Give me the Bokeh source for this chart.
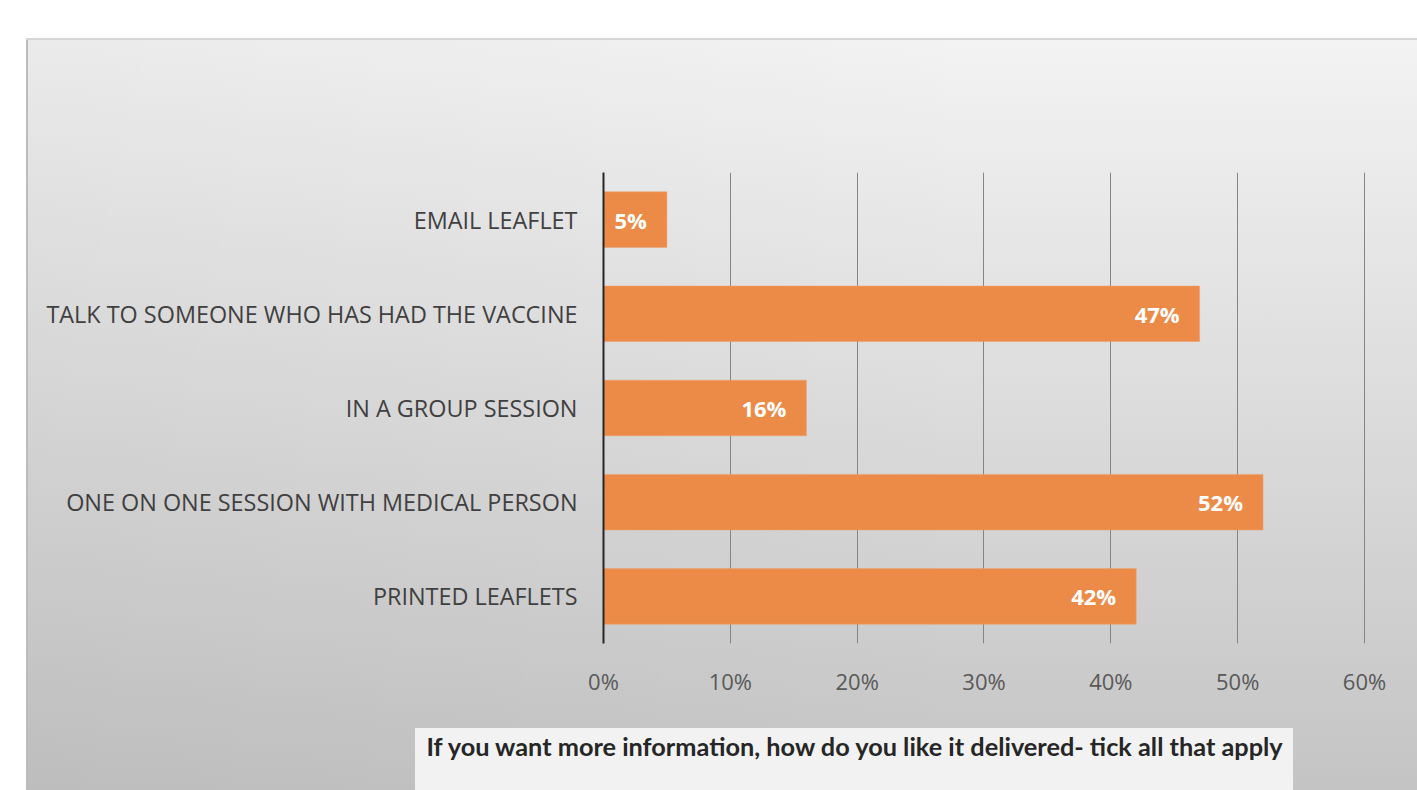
from bokeh.plotting import figure
from bokeh.models import Range1d, FactorRange, FixedTicker, Title
from bokeh.core.properties import value
from bokeh.embed import file_html
from bokeh.resources import INLINE

# ---- data ----
categories = [
    "EMAIL LEAFLET",
    "TALK TO SOMEONE WHO HAS HAD THE VACCINE",
    "IN A GROUP SESSION",
    "ONE ON ONE SESSION WITH MEDICAL PERSON",
    "PRINTED LEAFLETS",
]
percent = [5, 47, 16, 52, 42]
tick_values = [0, 10, 20, 30, 40, 50, 60]
tick_labels = ["0%", "10%", "20%", "30%", "40%", "50%", "60%"]
title_text = "If you want more information, how do you like it delivered- tick all that apply"

bar_labels = [f"{v}%" for v in percent]

p = figure(
    width=1417, height=790,
    y_range=FactorRange(factors=list(reversed(categories))),
    x_range=Range1d(0, 64.18),
    output_backend="svg", toolbar_location=None,
    min_border_left=603, min_border_right=0,
    min_border_top=172, min_border_bottom=147,
)
p.background_fill_color = None
p.border_fill_color = None
p.outline_line_color = None

p.styles = {
    "background-color": "white",
    "background-image": (
        "linear-gradient(#f2f2f2,#f2f2f2),"
        "linear-gradient(#d6d6d6,#d6d6d6),"
        "linear-gradient(#bcbcbc,#bcbcbc),"
        "linear-gradient(to right, rgba(0,0,0,0.035), rgba(0,0,0,0) 70%),"
        "linear-gradient(to bottom, #f3f3f4, #c4c4c4)"
    ),
    "background-position": "415px 728px, 26px 38px, 26px 38px, 26px 38px, 26px 38px",
    "background-size": "878px 62px, 1391px 2px, 2px 752px, 1391px 752px, 1391px 752px",
    "background-repeat": "no-repeat",
}

p.hbar(y=categories, right=percent, left=0, height=0.59,
       fill_color="#ec8b48", line_color="#f0a070", line_alpha=0.5, line_width=1)

p.text(x=percent, y=categories, text=bar_labels,
       text_align="right", text_baseline="middle", x_offset=-20,
       text_color="white", text_font=value("Open Sans"),
       text_font_style="bold", text_font_size="22px")

# axes
p.yaxis.axis_line_color = "#262626"
p.yaxis.axis_line_width = 2
p.yaxis.major_tick_line_color = None
p.yaxis.minor_tick_line_color = None
p.yaxis.major_label_standoff = 20
p.yaxis.major_label_text_font = "Open Sans"
p.yaxis.major_label_text_font_size = "23.4px"
p.yaxis.major_label_text_color = "#404040"

p.xaxis.ticker = FixedTicker(ticks=tick_values)
p.xaxis.major_label_overrides = {v: l for v, l in zip(tick_values, tick_labels)}
p.xaxis.axis_line_color = None
p.xaxis.major_tick_line_color = None
p.xaxis.minor_tick_line_color = None
p.xaxis.major_label_standoff = 16
p.xaxis.major_label_text_font = "Open Sans"
p.xaxis.major_label_text_font_size = "22px"
p.xaxis.major_label_text_color = "#595959"

p.xgrid.ticker = FixedTicker(ticks=tick_values[1:])
p.xgrid.grid_line_color = "#858585"
p.xgrid.grid_line_width = 1
p.ygrid.grid_line_color = None

t = Title(text=title_text, align="left", offset=-177,
          text_font="Lato", text_font_style="bold", text_font_size="25.3px",
          text_color="#262626", standoff=60, text_line_height=0.6)
p.add_layout(t, "below")

open("out.html", "w").write(file_html(p, INLINE))
